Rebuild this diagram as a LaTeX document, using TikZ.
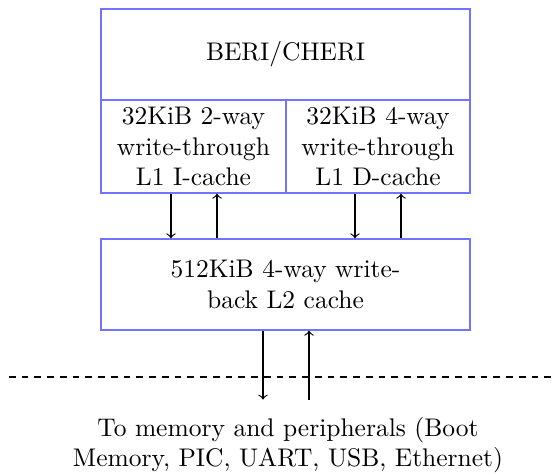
\documentclass[tikz,border=0pt]{standalone}
\usetikzlibrary{arrows}
\begin{document}
\begin{tikzpicture}[x=0.3922pt,y=-0.3922pt,
  box/.style={draw=blue!55,line width=0.6pt,rectangle,inner sep=0pt,align=center},
  link/.style={->,line width=0.45pt},
  sep/.style={dash pattern=on 2.6pt off 2.4pt,line width=0.45pt}]
\useasboundingbox (0,0) rectangle (552,474);
\node[box,minimum width=369*0.3922pt,minimum height=91*0.3922pt] (cpu) at (285.5,54.5) {BERI/CHERI};
\node[box,minimum width=185*0.3922pt,minimum height=93*0.3922pt] (icache) at (193.5,146.5) {32KiB 2-way\\write-through\\L1 I-cache};
\node[box,minimum width=184*0.3922pt,minimum height=93*0.3922pt] (dcache) at (378,146.5) {32KiB 4-way\\write-through\\L1 D-cache};
\node[box,minimum width=369*0.3922pt,minimum height=91*0.3922pt] (l2) at (285.5,284.5) {512KiB 4-way write-\\back L2 cache};
\node[align=center,inner sep=0pt] (mem) at (288,445) {To memory and peripherals (Boot\\Memory, PIC, UART, USB, Ethernet)};
\coordinate (memtop) at (286,399.5);
\coordinate (dl) at (9,377);
\coordinate (dr) at (552,377);
\draw[link] ([xshift=-22.5*0.3922pt]icache.south) -- ([xshift=-22.5*0.3922pt]icache.south |- l2.north);
\draw[link] ([xshift=23.5*0.3922pt]icache.south |- l2.north) -- ([xshift=23.5*0.3922pt]icache.south);
\draw[link] ([xshift=-23*0.3922pt]dcache.south) -- ([xshift=-23*0.3922pt]dcache.south |- l2.north);
\draw[link] ([xshift=23*0.3922pt]dcache.south |- l2.north) -- ([xshift=23*0.3922pt]dcache.south);
\draw[link] ([xshift=-22.5*0.3922pt]l2.south) -- ([xshift=-22.5*0.3922pt]l2.south |- memtop);
\draw[link] ([xshift=23.5*0.3922pt]l2.south |- memtop) -- ([xshift=23.5*0.3922pt]l2.south);
\draw[sep] (dl) -- (dr);
\end{tikzpicture}
\end{document}
